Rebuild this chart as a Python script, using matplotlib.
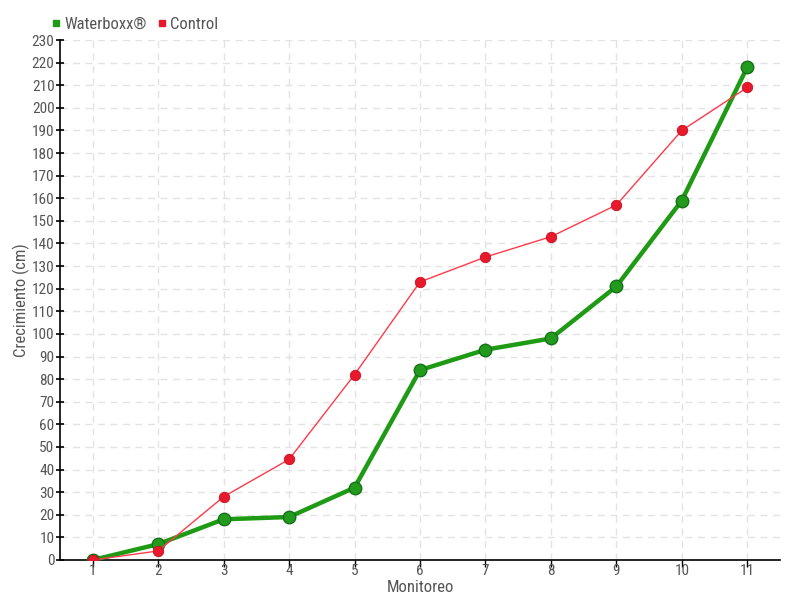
import matplotlib
matplotlib.use("Agg")
import matplotlib.pyplot as plt
from matplotlib.lines import Line2D

plt.rcParams['font.family'] = ['Roboto Condensed', 'Liberation Sans Narrow', 'DejaVu Sans']
plt.rcParams['font.stretch'] = 'condensed'

monitoreo = [1, 2, 3, 4, 5, 6, 7, 8, 9, 10, 11]
waterboxx = [0, 7, 18, 19, 32, 84, 93, 98, 121, 159, 218]
control = [0, 4, 28, 44.5, 82, 123, 134, 143, 157, 190, 209]

txt = '#555555'
green = '#1f9a14'
red = '#e8192c'

fig = plt.figure(figsize=(8, 6), dpi=100)
ax = fig.add_axes([0.075, 0.0667, 0.9, 0.8666])

ax.plot(monitoreo, waterboxx, color=green, lw=3.2, marker='o', ms=9,
        markerfacecolor='#229a1c', markeredgecolor='#17701a', markeredgewidth=1, zorder=3)
ax.plot(monitoreo, control, color='#ff3a4a', lw=1, marker='o', ms=7.5,
        markerfacecolor=red, markeredgecolor='#c8101e', markeredgewidth=0.6, zorder=4)

ax.set_xlim(0.5, 11.5)
ax.set_ylim(0, 230)
ax.set_xticks(monitoreo)
ax.set_yticks(range(0, 231, 10))
ax.grid(True, linestyle=(0, (5, 4)), color='#e3e3e3', lw=1)
ax.set_axisbelow(True)
for s in ['top', 'right']:
    ax.spines[s].set_visible(False)
ax.spines['left'].set_linewidth(1.2)
ax.spines['bottom'].set_linewidth(1.2)
ax.tick_params(axis='y', direction='inout', length=6, width=1.2, labelsize=11, labelcolor=txt, pad=1)
ax.tick_params(axis='x', direction='out', length=5, width=1, labelsize=11, labelcolor=txt, pad=-2)

# eje x: etiqueta justo debajo de los números
ax.set_xlabel('Monitoreo', color=txt, fontsize=12)
ax.xaxis.set_label_coords(0.5, -0.038)
ax.xaxis.label.set_va('top')
ax.set_ylabel('Crecimiento (cm)', color=txt, fontsize=12)
ax.yaxis.set_label_coords(-0.042, 0.5)

handles = [Line2D([], [], ls='none', marker='s', ms=5, color=green),
           Line2D([], [], ls='none', marker='s', ms=5, color=red)]
fig.legend(handles, ['Waterboxx®', 'Control'], loc='upper left', bbox_to_anchor=(0.055, 0.983),
           ncol=2, frameon=False, fontsize=12, labelcolor=txt, handlelength=0.6,
           handletextpad=0.2, columnspacing=0.6, borderaxespad=0)

fig.savefig('out.png', dpi=100)
